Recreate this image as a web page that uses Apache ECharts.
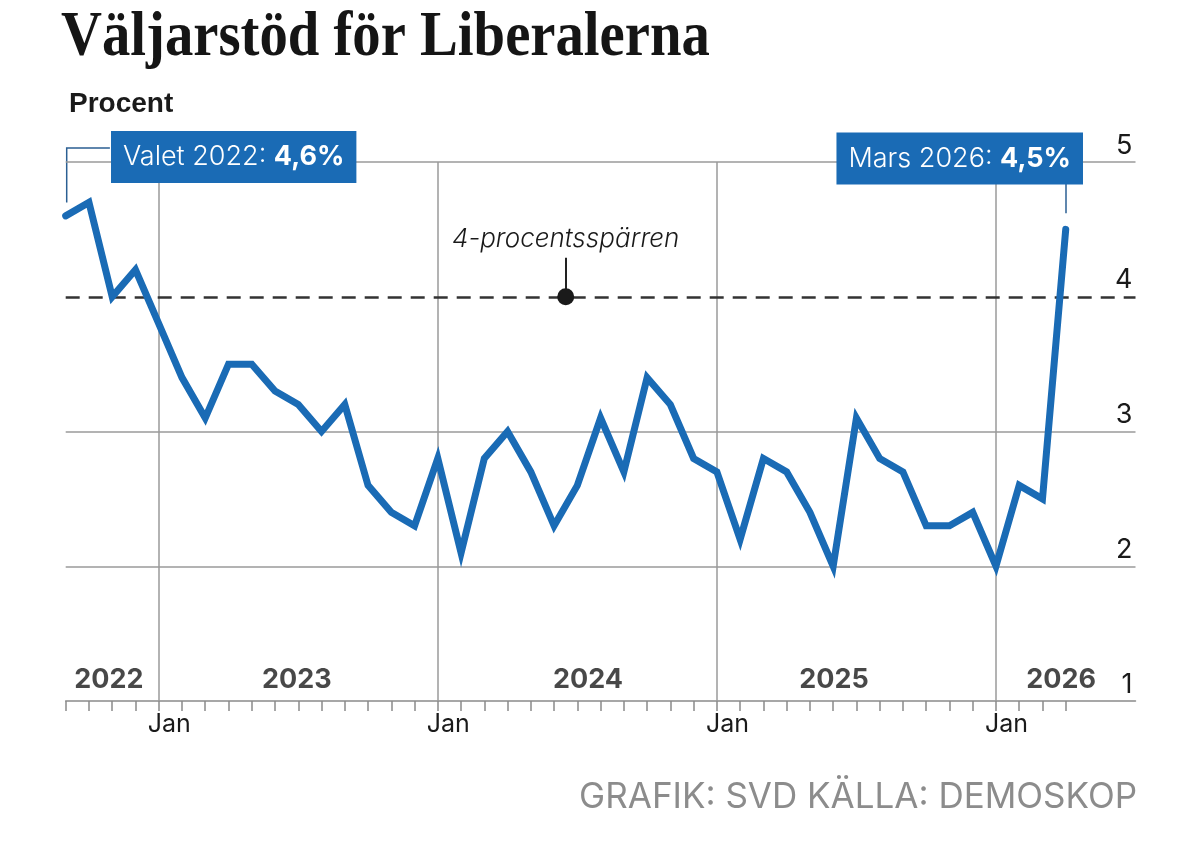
<!DOCTYPE html>
<html>
<head>
<meta charset="utf-8">
<script src="https://cdn.jsdelivr.net/npm/echarts@6/dist/echarts.min.js"></script>
<style>
html,body{margin:0;padding:0;background:#fff;}
#c{width:1200px;height:858px;}
</style>
</head>
<body>
<div id="c"></div>
<script>
// ---- data ----
const months = ['2022-09','2022-10','2022-11','2022-12',
 '2023-01','2023-02','2023-03','2023-04','2023-05','2023-06','2023-07','2023-08','2023-09','2023-10','2023-11','2023-12',
 '2024-01','2024-02','2024-03','2024-04','2024-05','2024-06','2024-07','2024-08','2024-09','2024-10','2024-11','2024-12',
 '2025-01','2025-02','2025-03','2025-04','2025-05','2025-06','2025-07','2025-08','2025-09','2025-10','2025-11','2025-12',
 '2026-01','2026-02','2026-03','2026-04'];
const support = [4.6,4.7,4.0,4.2,3.8,3.4,3.1,3.5,3.5,3.3,3.2,3.0,3.2,2.6,2.4,2.3,
 2.8,2.1,2.8,3.0,2.7,2.3,2.6,3.1,2.7,3.4,3.2,2.8,
 2.7,2.2,2.8,2.7,2.4,2.0,3.1,2.8,2.7,2.3,2.3,2.4,
 2.0,2.6,2.5,4.5];
const yTicks = [1,2,3,4,5];
const yearLabels = ['2022','2023','2024','2025','2026'];
const threshold = 4;
const electionLabel = 'Valet 2022: ';
const electionValue = '4,6%';
const latestLabel = 'Mars 2026: ';
const latestValue = '4,5%';
const thresholdLabel = '4-procentsspärren';

// ---- layout (positions only) ----
const yearPos = [1.86, 9.94, 22.46, 33.04, 42.8];
const janIdx = months.map((m,i)=>m.endsWith('-01')?i:-1).filter(i=>i>=0);
const BLUE = '#1a6bb5';
const SANS = 'Inter, Roboto, sans-serif';

const chart = echarts.init(document.getElementById('c'), null, {renderer:'canvas'});
const last = support.length - 1;

const boxRich = {
  r:{fontFamily:SANS, fontSize:27, color:'#fff', fontWeight:300, lineHeight:28},
  b:{fontFamily:SANS, fontSize:27, color:'#fff', fontWeight:'bold', lineHeight:28}
};

chart.setOption({
  animation:false,
  backgroundColor:'#fff',
  title:[
    {text:'Procent', left:64, top:85,
     textStyle:{fontFamily:'Liberation Sans, Arial, sans-serif', fontWeight:'bold', fontSize:28, color:'#1a1a1a'}},
    {text:'GRAFIK: SVD KÄLLA: DEMOSKOP', right:58, top:775,
     textStyle:{fontFamily:SANS, fontWeight:'normal', fontSize:35, color:'#8c8c8c'}}
  ],
  grid:{left:65.7, right:64.5, top:162, bottom:157},
  xAxis:{
    type:'value', min:0, max:46,
    axisLine:{show:true, lineStyle:{color:'#8a8a8a', width:1.5}},
    axisTick:{show:true, customValues: months.map((m,i)=>i), length:10, lineStyle:{color:'#8a8a8a', width:1.5}},
    axisLabel:{show:true, customValues: janIdx, formatter:()=> 'Jan', fontFamily:SANS, fontSize:25, color:'#1a1a1a', margin:11, align:'left', padding:[0,0,0,-11]},
    splitLine:{show:false}
  },
  yAxis:{
    type:'value', min:1, max:5, interval:1, position:'right',
    axisLine:{show:false}, axisTick:{show:false}, splitLine:{show:false},
    axisLabel:{inside:true, margin:3, verticalAlign:'bottom', padding:[0,0,3,0], fontFamily:SANS, fontSize:27, color:'#1a1a1a',
      formatter:(v)=> yTicks.includes(v) ? String(v) : ''}
  },
  series:[
    {
      type:'line', name:'grid', data:[], silent:true, z:1,
      markLine:{
        silent:true, symbol:'none', label:{show:false},
        lineStyle:{color:'#9a9a9a', width:1.5, type:'solid'},
        data: [
          ...yTicks.filter(v=>v!==threshold && v!==1).map(v=>({yAxis:v})),
          ...janIdx.map(i=>({xAxis:i}))
        ]
      }
    },
    {
      type:'line', name:'threshold', data:[], silent:true, z:2,
      markLine:{
        silent:true, symbol:'none', label:{show:false},
        data:[
          {yAxis:threshold, lineStyle:{color:'#333', width:2.5, type:[14,9]}},
          [{coord:[21.5,threshold], lineStyle:{color:'#222', width:2, type:'solid'}},{coord:[21.5,4.29]}],
          [{coord:[last,4.62], lineStyle:{color:'#2b5f93', width:1.5, type:'solid'}},{coord:[last,4.86]}]
        ]
      },
      markPoint:{
        silent:true,
        data:[
          {coord:[21.5,threshold], symbol:'circle', symbolSize:17, itemStyle:{color:'#1a1a1a'}, label:{show:false}},
          {coord:[21.5,4.29], symbol:'circle', symbolSize:1, itemStyle:{color:'rgba(0,0,0,0)'},
           label:{show:true, position:'top', distance:5, formatter:thresholdLabel, fontFamily:SANS, fontStyle:'italic', fontSize:26, fontWeight:300, color:'#1a1a1a'}}
        ]
      }
    },
    {
      type:'line', name:'Liberalerna', z:5,
      data: support.map((v,i)=>[i,v]),
      showSymbol:false, symbol:'none',
      lineStyle:{color:BLUE, width:7, join:'miter', cap:'round'},
      markPoint:{
        silent:true, z:10,
        data:[
          {coord:[0,support[0]], symbol:'rect', symbolSize:1, itemStyle:{color:'rgba(0,0,0,0)'},
           label:{show:true, position:'inside', offset:[168,-59], backgroundColor:BLUE, padding:[12,12,12,12],
             formatter:'{r|'+electionLabel+'}{b|'+electionValue+'}', rich:boxRich}},
          {coord:[last,support[last]], symbol:'rect', symbolSize:1, itemStyle:{color:'rgba(0,0,0,0)'},
           label:{show:true, position:'inside', offset:[-106,-71], backgroundColor:BLUE, padding:[12,12,12,12],
             formatter:'{r|'+latestLabel+'}{b|'+latestValue+'}', rich:boxRich}}
        ]
      }
    },
    {
      type:'scatter', name:'years', silent:true, symbol:'circle', symbolSize:1,
      itemStyle:{color:'rgba(0,0,0,0)'},
      data: yearLabels.map((t,i)=>({value:[yearPos[i],1], name:t})),
      label:{show:true, position:'top', distance:7, formatter:(p)=>p.name, fontFamily:SANS, fontWeight:'bold', fontSize:27, color:'#1a1a1a'}
    }
  ]
});

// connector from the first point up to the election callout
const pA = chart.convertToPixel({seriesIndex:2}, [0, 4.7]);
const pB = chart.convertToPixel({seriesIndex:2}, [0, 5.104]);
const pC = chart.convertToPixel({seriesIndex:2}, [1.9, 5.104]);
chart.setOption({
  graphic:[
    {type:'text', x:61, y:7, scaleX:0.9, scaleY:1,
     style:{text:'Väljarstöd för Liberalerna', fontFamily:'Liberation Serif, serif', fontWeight:'bold', fontSize:63, fill:'#151515', verticalAlign:'top', align:'left'}},
    {type:'polyline', z:3, silent:true,
     shape:{points:[[pA[0]+1,pA[1]],[pB[0]+1,pB[1]],[pC[0],pC[1]]]},
     style:{stroke:'#2b5f93', lineWidth:1.5, fill:null}}
  ]
}, {replaceMerge:['graphic']});
</script>
</body>
</html>
